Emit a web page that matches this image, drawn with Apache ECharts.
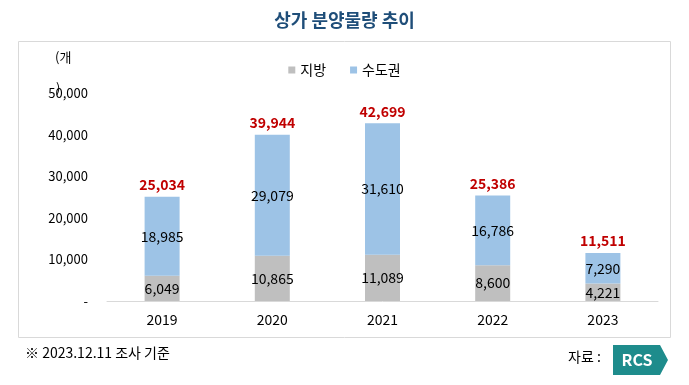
<!DOCTYPE html>
<html><head><meta charset="utf-8">
<script src="https://cdn.jsdelivr.net/npm/echarts@6/dist/echarts.min.js"></script>
<style>html,body{margin:0;padding:0;background:#fff}#c{width:689px;height:385px}</style>
</head><body><div id="c"></div>
<script>
const categories = ['2019','2020','2021','2022','2023'];
const local = [6049, 10865, 11089, 8600, 4221];
const capital = [18985, 29079, 31610, 16786, 7290];
const totals = [25034, 39944, 42699, 25386, 11511];
const yTicks = [0, 10000, 20000, 30000, 40000, 50000];

const F = '"Noto Sans CJK KR","Noto Sans",sans-serif';
const fmt = v => v.toLocaleString('en-US');
const chart = echarts.init(document.getElementById('c'));
chart.setOption({
  animation: false,
  textStyle: {fontFamily: F},
  title: {text: '상가 분양물량 추이', left: 'center', top: 6,
    textStyle: {fontFamily: F, fontSize: 18, fontWeight: 'bold', color: '#1F4E79'}},
  legend: {data: ['지방','수도권'], top: 58, left: 'center', itemWidth: 7, itemHeight: 7, itemGap: 24,
    icon: 'rect', textStyle: {fontFamily: F, fontSize: 14, color: '#000'}},
  grid: {left: 107, right: 31, top: 93, bottom: 84},
  xAxis: {type: 'category', data: categories,
    axisLine: {lineStyle: {color: '#D9D9D9', width: 1}}, axisTick: {show: false},
    axisLabel: {color: '#000', fontSize: 14, margin: 12, fontFamily: F}},
  yAxis: {type: 'value', min: yTicks[0], max: yTicks[yTicks.length-1], interval: 10000,
    splitLine: {show: false}, axisLine: {show: false}, axisTick: {show: false},
    axisLabel: {color: '#000', fontSize: 13, margin: 19, fontFamily: F,
      formatter: v => v === 0 ? '-' : fmt(v)}},
  series: [
    {name: '지방', type: 'bar', stack: 't', data: local, barWidth: 35,
      itemStyle: {color: '#BFBFBF'},
      label: {show: true, position: 'inside', color: '#000', fontSize: 14, fontFamily: F, formatter: p => fmt(p.value)}},
    {name: '수도권', type: 'bar', stack: 't', data: capital, barWidth: 35,
      itemStyle: {color: '#9DC3E6'},
      label: {show: true, position: 'inside', color: '#000', fontSize: 14, fontFamily: F, formatter: p => fmt(p.value)}},
    {name: '합계', type: 'bar', data: totals, barWidth: 35, barGap: '-100%', silent: true, z: 0,
      itemStyle: {color: 'rgba(0,0,0,0)'},
      label: {show: true, position: 'top', distance: 5, color: '#C00000', fontSize: 14, fontWeight: 'bold', fontFamily: F,
        formatter: p => fmt(p.value)}}
  ],
  graphic: [
    {type: 'rect', shape: {x: 18.5, y: 41.5, width: 652, height: 296}, style: {fill: 'none', stroke: '#D9D9D9', lineWidth: 1}, z: -1},
    {type: 'text', left: 55, top: 51, style: {text: '(개', font: '13px ' + F, fill: '#000'}},
    {type: 'text', left: 56, top: 82, style: {text: ')', font: '13px ' + F, fill: '#000'}},
    {type: 'text', left: 25, top: 346, style: {text: '※ 2023.12.11 조사 기준', font: '14px ' + F, fill: '#000'}},
    {type: 'text', left: 568, top: 350, style: {text: '자료 :', font: '14px ' + F, fill: '#000'}},
    {type: 'polygon', shape: {points: [[613,345],[660,345],[668,360],[660,375],[613,375]]}, style: {fill: '#1E8C8C'}},
    {type: 'text', x: 637, y: 360, style: {text: 'RCS', font: 'bold 16px ' + F, fill: '#fff', align: 'center', verticalAlign: 'middle'}}
  ]
});
</script></body></html>
